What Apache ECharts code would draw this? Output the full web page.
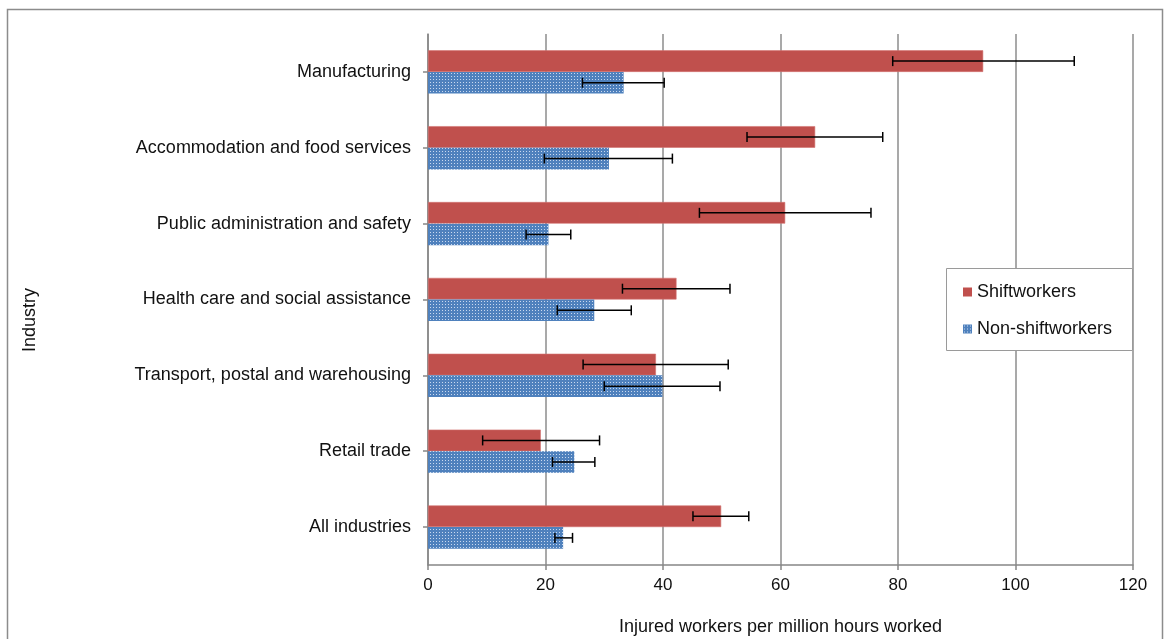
<!DOCTYPE html>
<html>
<head>
<meta charset="utf-8">
<script src="https://cdn.jsdelivr.net/npm/echarts@6/dist/echarts.min.js"></script>
<style>
  html, body { margin: 0; padding: 0; background: #fff; }
  #chart { width: 1166px; height: 639px; }
</style>
</head>
<body>
<div id="chart"></div>
<script>
// categories, top to bottom
const industries = [
  'Manufacturing',
  'Accommodation and food services',
  'Public administration and safety',
  'Health care and social assistance',
  'Transport, postal and warehousing',
  'Retail trade',
  'All industries'
]
const shiftworkers = [94.5, 65.9, 60.8, 42.3, 38.8, 19.2, 49.9]
const shiftLow = [79.1, 54.3, 46.2, 33.1, 26.4, 9.3, 45.1]
const shiftHigh = [110.0, 77.4, 75.4, 51.4, 51.1, 29.2, 54.6]
const nonShiftworkers = [33.3, 30.8, 20.5, 28.3, 39.9, 24.9, 23.0]
const nonLow = [26.3, 19.8, 16.7, 22.0, 30.0, 21.2, 21.6]
const nonHigh = [40.2, 41.6, 24.3, 34.6, 49.7, 28.4, 24.6]
const xTicks = [0, 20, 40, 60, 80, 100, 120]

const FONT = 'Liberation Sans, Arial, sans-serif'
const CAT_GAP = 0.43

// dotted blue fill like the excel pattern
function dotPattern() {
  const c = document.createElement('canvas')
  c.width = 3
  c.height = 3
  const ctx = c.getContext('2d')
  ctx.fillStyle = '#4f81bd'
  ctx.fillRect(0, 0, 3, 3)
  ctx.fillStyle = '#c9d9ef'
  ctx.fillRect(1, 1, 1, 1)
  return c
}

// error bar drawn over the bar of series `which` (0 = upper, 1 = lower)
function errorBar(which) {
  return function (params, api) {
    const cat = api.value(0)
    const lo = api.coord([api.value(1), cat])
    const hi = api.coord([api.value(2), cat])
    const band = Math.abs(api.size([0, 1])[1])
    const barH = band * (1 - CAT_GAP) / 2
    const y = lo[1] + (which === 0 ? -barH / 2 : barH / 2)
    const cap = 5
    const style = { stroke: '#000', lineWidth: 1.5 }
    return {
      type: 'group',
      children: [
        { type: 'line', shape: { x1: lo[0], y1: y, x2: hi[0], y2: y }, style: style },
        { type: 'line', shape: { x1: lo[0], y1: y - cap, x2: lo[0], y2: y + cap }, style: style },
        { type: 'line', shape: { x1: hi[0], y1: y - cap, x2: hi[0], y2: y + cap }, style: style }
      ]
    }
  }
}

const shiftErr = industries.map((_, i) => [i, shiftLow[i], shiftHigh[i]])
const nonErr = industries.map((_, i) => [i, nonLow[i], nonHigh[i]])

const myChart = echarts.init(document.getElementById('chart'))
myChart.setOption({
  animation: false,
  textStyle: { fontFamily: FONT },
  grid: { left: 428, right: 33, top: 34, bottom: 74, outerBoundsMode: 'none' },
  graphic: [
    {
      type: 'rect', z: 0,
      shape: { x: 7.5, y: 9.5, width: 1155, height: 660 },
      style: { fill: 'none', stroke: '#8c8c8c', lineWidth: 1.5 }
    },
    {
      type: 'rect', z: 50,
      shape: { x: 946.5, y: 268.5, width: 186, height: 82 },
      style: { fill: '#fff', stroke: '#9a9a9a', lineWidth: 1 }
    },
    // y axis title
    {
      type: 'text', z: 50,
      x: 30, y: 320, rotation: Math.PI / 2,
      style: {
        text: 'Industry', fontSize: 18, fontFamily: FONT, fill: '#111',
        align: 'center', verticalAlign: 'middle'
      }
    }
  ],
  legend: {
    z: 100,
    orient: 'vertical',
    left: 963,
    top: 283,
    padding: 0,
    itemGap: 19,
    itemWidth: 9,
    itemHeight: 9,
    icon: 'rect',
    itemStyle: { borderWidth: 0 },
    data: ['Shiftworkers', 'Non-shiftworkers'],
    textStyle: { fontSize: 18, color: '#111', fontFamily: FONT }
  },
  xAxis: {
    type: 'value',
    min: 0,
    max: 120,
    interval: 20,
    name: 'Injured workers per million hours worked',
    nameLocation: 'middle',
    nameGap: 53,
    nameTextStyle: { fontSize: 18, color: '#111' },
    axisLine: { show: true, lineStyle: { color: '#878787', width: 1.5 } },
    axisTick: { show: true, length: 5, lineStyle: { color: '#878787', width: 1.5 } },
    axisLabel: {
      fontSize: 17, color: '#111', margin: 12,
      formatter: v => (xTicks.includes(v) ? String(v) : '')
    },
    splitLine: { show: true, lineStyle: { color: '#8c8c8c', width: 1.5 } }
  },
  yAxis: {
    type: 'category',
    inverse: true,
    data: industries,
    axisLine: { show: true, lineStyle: { color: '#878787', width: 1.5 } },
    axisTick: { show: true, alignWithLabel: true, length: 5, lineStyle: { color: '#878787', width: 1.5 } },
    axisLabel: { fontSize: 18, color: '#111', margin: 17 }
  },
  series: [
    {
      name: 'Shiftworkers',
      type: 'bar',
      data: shiftworkers,
      barGap: 0,
      barCategoryGap: (CAT_GAP * 100) + '%',
      itemStyle: { color: '#c0504d', borderColor: '#d47472', borderWidth: 0.6 }
    },
    {
      name: 'Non-shiftworkers',
      type: 'bar',
      data: nonShiftworkers,
      barGap: 0,
      barCategoryGap: (CAT_GAP * 100) + '%',
      itemStyle: { color: { image: dotPattern(), repeat: 'repeat' } }
    },
    {
      type: 'custom',
      renderItem: errorBar(0),
      encode: { x: [1, 2], y: 0 },
      data: shiftErr,
      z: 10,
      silent: true
    },
    {
      type: 'custom',
      renderItem: errorBar(1),
      encode: { x: [1, 2], y: 0 },
      data: nonErr,
      z: 10,
      silent: true
    }
  ]
})
</script>
</body>
</html>
